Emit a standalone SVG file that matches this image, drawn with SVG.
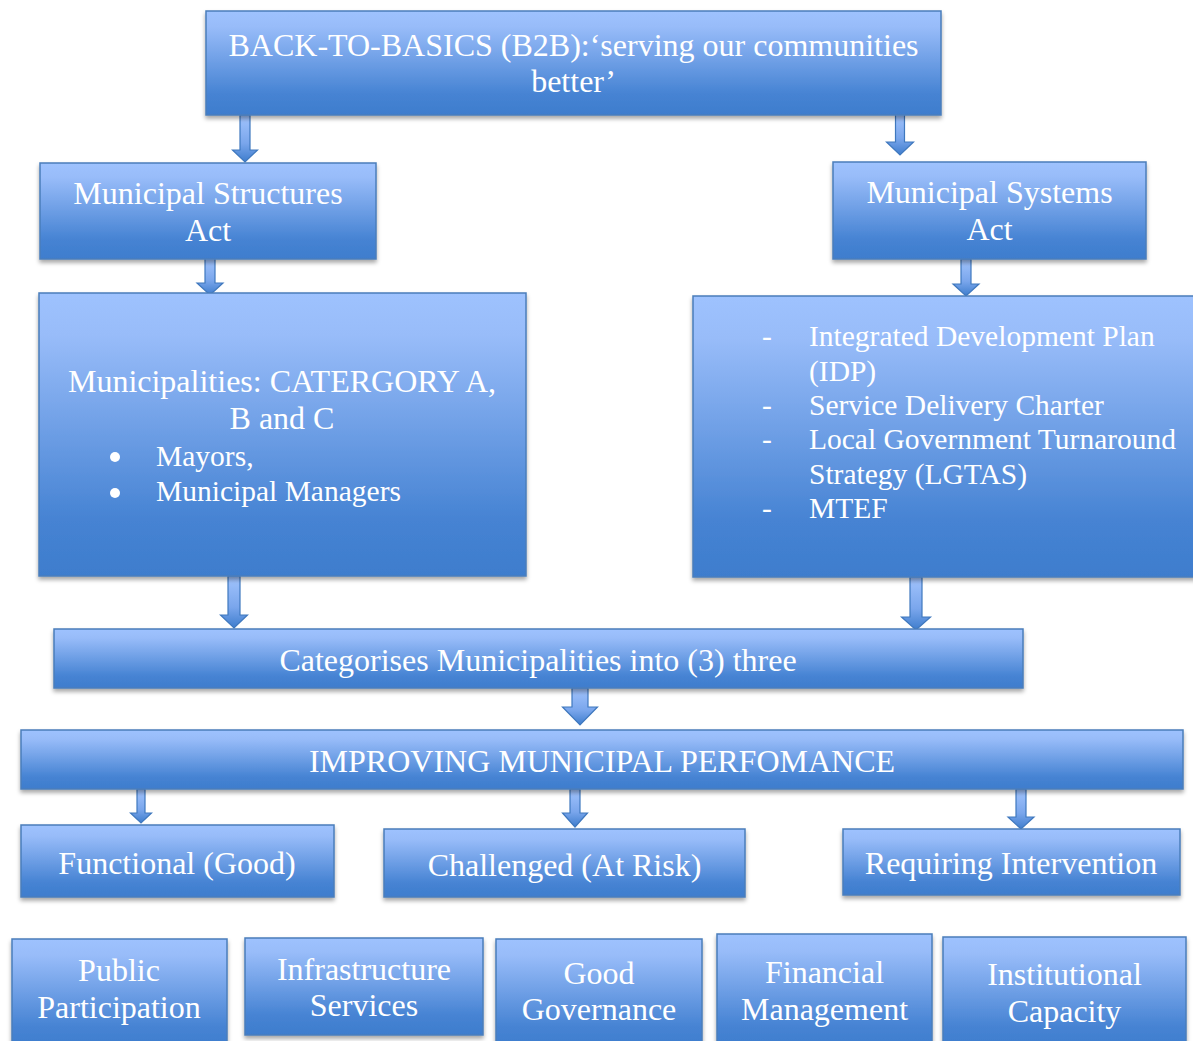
<svg xmlns="http://www.w3.org/2000/svg" width="1193" height="1041" viewBox="0 0 1193 1041">
<defs>
<linearGradient id="g" x1="0" y1="0" x2="0" y2="1">
<stop offset="0" stop-color="#9EC2FE"/>
<stop offset="0.15" stop-color="#98BCF9"/>
<stop offset="0.8" stop-color="#4683D3"/>
<stop offset="1" stop-color="#3E7DCD"/>
</linearGradient>
<linearGradient id="ga" x1="0" y1="0" x2="0" y2="1">
<stop offset="0" stop-color="#A2C4FD"/>
<stop offset="0.6" stop-color="#7AA6EC"/>
<stop offset="1" stop-color="#3E7DCD"/>
</linearGradient>
<filter id="sh" x="-5%" y="-10%" width="110%" height="130%">
<feDropShadow dx="0" dy="3" stdDeviation="2" flood-color="#000" flood-opacity="0.35"/>
</filter>
<style>
.box{fill:url(#g);stroke:#4A7EBB;stroke-width:1.5;filter:url(#sh)}
.arr{fill:url(#ga);stroke:#3F78BE;stroke-width:1.2;stroke-linejoin:miter}
text{font-family:"Liberation Serif","Times New Roman",serif;fill:#FFFFFF;font-size:32px}
.c{text-anchor:middle}
.s{font-size:29.5px}
</style>
</defs>
<rect width="1193" height="1041" fill="#FFFFFF"/>

<g id="connectors">
<polygon class="arr" points="240,115 250,115 250,150 257.5,150 245,162 232.5,150 240,150"/>
<polygon class="arr" points="895.5,113 904.5,113 904.5,142 913.5,142 900,155 886.5,142 895.5,142"/>
<polygon class="arr" points="205,258 215,258 215,283 223,283 210,295 197,283 205,283"/>
<polygon class="arr" points="961,259 971,259 971,284 979,284 966,296 953,284 961,284"/>
<polygon class="arr" points="228,576 240,576 240,615 247.5,615 234,628 220.5,615 228,615"/>
<polygon class="arr" points="910,577 922,577 922,617 930.5,617 916,630 901.5,617 910,617"/>
<polygon class="arr" points="572,688 588,688 588,707 597.5,707 580,725 562.5,707 572,707"/>
<polygon class="arr" points="137,789 145,789 145,813 151.5,813 141,823 130.5,813 137,813"/>
<polygon class="arr" points="570,789 580,789 580,813 587.5,813 575,827 562.5,813 570,813"/>
<polygon class="arr" points="1016,789 1026,789 1026,817 1034,817 1021,829 1008,817 1016,817"/>
</g>

<g id="b2b">
<rect class="box" x="206" y="11" width="735" height="104"/>
<text class="c" x="573.5" y="56">BACK-TO-BASICS (B2B):‘serving our communities</text>
<text class="c" x="573.5" y="92">better’</text>
</g>

<g id="structures-act">
<rect class="box" x="40" y="163" width="336" height="96"/>
<text class="c" x="208" y="204">Municipal Structures</text>
<text class="c" x="208" y="241">Act</text>
</g>

<g id="systems-act">
<rect class="box" x="833" y="162" width="313" height="97"/>
<text class="c" x="989.5" y="203">Municipal Systems</text>
<text class="c" x="989.5" y="240">Act</text>
</g>

<g id="municipalities">
<rect class="box" x="39" y="293" width="487" height="283"/>
<text class="c" x="282" y="392">Municipalities: CATERGORY A,</text>
<text class="c" x="282" y="429">B and C</text>
<circle cx="115" cy="457" r="5" fill="#FFFFFF"/>
<text class="s" x="156" y="466">Mayors,</text>
<circle cx="115" cy="493" r="5" fill="#FFFFFF"/>
<text class="s" x="156" y="501">Municipal Managers</text>
</g>

<g id="systems-list">
<rect class="box" x="693" y="296" width="510" height="281"/>
<text class="s" x="762" y="346">-</text>
<text class="s" x="809" y="346">Integrated Development Plan</text>
<text class="s" x="809" y="381">(IDP)</text>
<text class="s" x="762" y="415">-</text>
<text class="s" x="809" y="415">Service Delivery Charter</text>
<text class="s" x="762" y="449">-</text>
<text class="s" x="809" y="449">Local Government Turnaround</text>
<text class="s" x="809" y="484">Strategy (LGTAS)</text>
<text class="s" x="762" y="518">-</text>
<text class="s" x="809" y="518">MTEF</text>
</g>

<g id="categorises">
<rect class="box" x="54" y="629" width="969" height="59"/>
<text class="c" x="538" y="671">Categorises Municipalities into (3) three</text>
</g>

<g id="improving">
<rect class="box" x="21" y="730" width="1162" height="59"/>
<text class="c" x="602" y="772">IMPROVING MUNICIPAL PERFOMANCE</text>
</g>

<g id="functional">
<rect class="box" x="21" y="825" width="313" height="72"/>
<text class="c" x="177" y="874">Functional (Good)</text>
</g>

<g id="challenged">
<rect class="box" x="384" y="829" width="361" height="68"/>
<text class="c" x="564.5" y="876">Challenged (At Risk)</text>
</g>

<g id="requiring">
<rect class="box" x="843" y="829" width="337" height="66"/>
<text class="c" x="1011" y="874">Requiring Intervention</text>
</g>

<g id="public-participation">
<rect class="box" x="12" y="939" width="215" height="110"/>
<text class="c" x="119" y="981">Public</text>
<text class="c" x="119" y="1018">Participation</text>
</g>

<g id="infrastructure-services">
<rect class="box" x="245" y="938" width="238" height="97"/>
<text class="c" x="364" y="980">Infrastructure</text>
<text class="c" x="364" y="1016">Services</text>
</g>

<g id="good-governance">
<rect class="box" x="496" y="939" width="206" height="110"/>
<text class="c" x="599" y="984">Good</text>
<text class="c" x="599" y="1020">Governance</text>
</g>

<g id="financial-management">
<rect class="box" x="717" y="934" width="215" height="115"/>
<text class="c" x="824.5" y="983">Financial</text>
<text class="c" x="824.5" y="1020">Management</text>
</g>

<g id="institutional-capacity">
<rect class="box" x="943" y="937" width="243" height="112"/>
<text class="c" x="1064.5" y="985">Institutional</text>
<text class="c" x="1064.5" y="1022">Capacity</text>
</g>
</svg>
